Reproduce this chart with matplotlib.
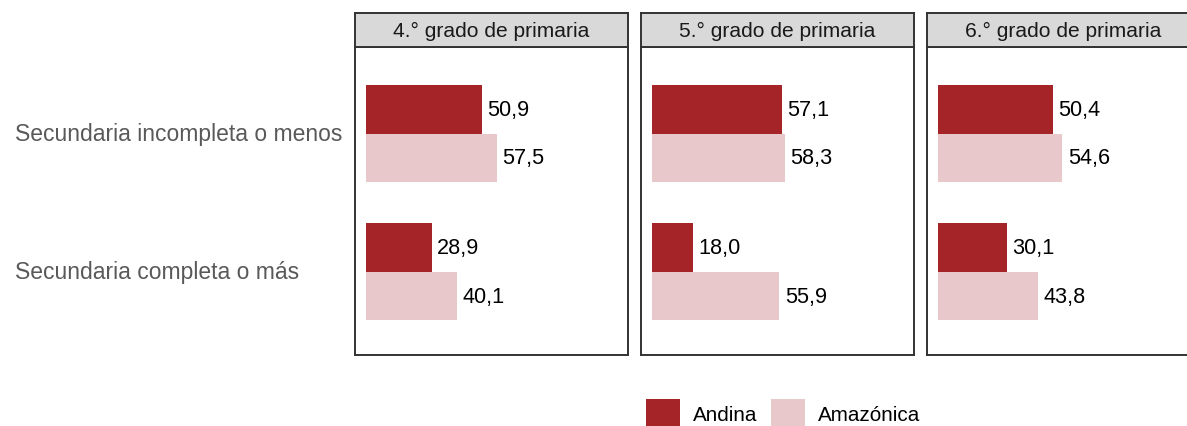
import numpy as np
import matplotlib.pyplot as plt
from matplotlib.patches import Patch

plt.rcParams['font.family'] = ['Liberation Sans', 'DejaVu Sans']

# Datos
grados = ["4.° grado de primaria", "5.° grado de primaria", "6.° grado de primaria"]
niveles = ["Secundaria incompleta o menos", "Secundaria completa o más"]
andina = [[50.9, 28.9], [57.1, 18.0], [50.4, 30.1]]
amazonica = [[57.5, 40.1], [58.3, 55.9], [54.6, 43.8]]
series = ["Andina", "Amazónica"]
colores = ["#A52428", "#E8C8CA"]

W, H = 1187, 427
fig = plt.figure(figsize=(W / 100, H / 100), dpi=100)

def px_axes(x0, y0, x1, y1):
    # coordenadas en pixeles (origen arriba a la izquierda)
    return fig.add_axes([x0 / W, 1 - y1 / H, (x1 - x0) / W, (y1 - y0) / H])

lefts = [355, 641, 927]
pw = 273
bh = 0.35
ypos = np.array([1, 2])
ylo, yhi = 0.375, 2.6

for i, g in enumerate(grados):
    x0 = lefts[i]
    ax = px_axes(x0, 48, x0 + pw, 356)
    ax.barh(ypos - bh / 2, andina[i], height=bh, color=colores[0])
    ax.barh(ypos + bh / 2, amazonica[i], height=bh, color=colores[1])
    for j in range(2):
        ax.text(andina[i][j] + 2.4, ypos[j] - bh / 2, f"{andina[i][j]:.1f}".replace(".", ","),
                va="center", ha="left", fontsize=15.6, color="black")
        ax.text(amazonica[i][j] + 2.4, ypos[j] + bh / 2, f"{amazonica[i][j]:.1f}".replace(".", ","),
                va="center", ha="left", fontsize=15.6, color="black")
    ax.set_xlim(-4.8, 114.9)
    ax.set_ylim(yhi, ylo)
    ax.set_xticks([])
    ax.set_yticks([])
    for s in ax.spines.values():
        s.set_color("#333333")
        s.set_linewidth(1.4)

    if i == 0:
        # etiquetas del eje y, alineadas a la izquierda de la figura
        trans = ax.get_yaxis_transform()
        for j, nv in enumerate(niveles):
            ax.text(-340 / pw, ypos[j], nv, transform=trans, ha="left", va="center",
                    fontsize=16.5, color="#595959", clip_on=False)

    # tira del titulo del panel
    st = px_axes(x0, 14, x0 + pw, 48)
    st.set_facecolor("#D9D9D9")
    st.set_xticks([])
    st.set_yticks([])
    for s in st.spines.values():
        s.set_color("#333333")
        s.set_linewidth(1.4)
    st.text(0.5, 0.5, g, transform=st.transAxes, ha="center", va="center",
            fontsize=15.1, color="#1A1A1A")

handles = [Patch(facecolor=c, edgecolor="none", label=s) for s, c in zip(series, colores)]
fig.legend(handles=handles, ncol=2, loc="center left",
           bbox_to_anchor=(646 / W, 1 - 414 / H), frameon=False,
           fontsize=14.9, handlelength=1.64, handleheight=1.64,
           handletextpad=0.62, columnspacing=0.66, borderpad=0, borderaxespad=0)

fig.savefig("out.png", dpi=100)
